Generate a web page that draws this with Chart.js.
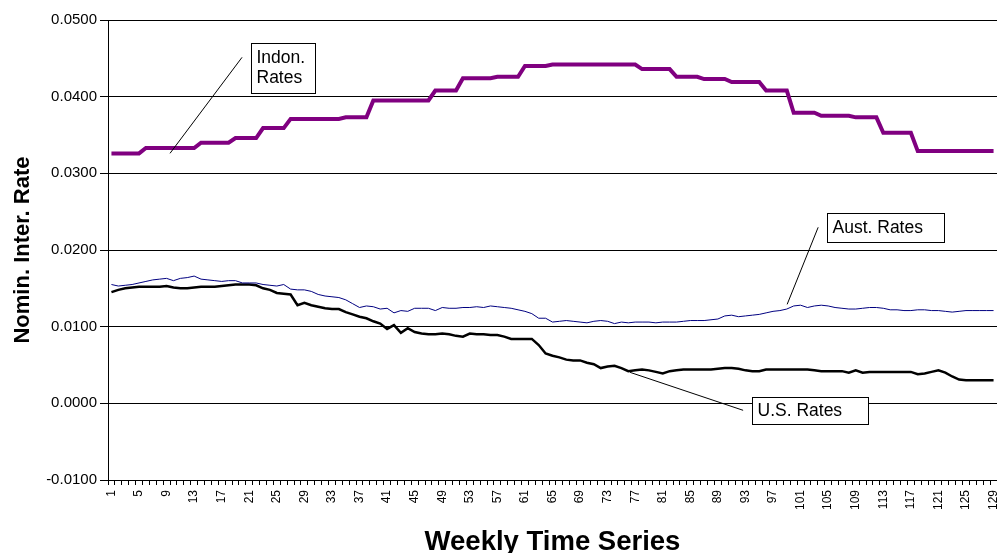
<!DOCTYPE html>
<html>
<head>
<meta charset="utf-8">
<script src="https://cdn.jsdelivr.net/npm/chart.js@4.4.0/dist/chart.umd.min.js"></script>
<style>
  html, body { margin: 0; padding: 0; background: #fff; }
</style>
</head>
<body>
<canvas id="grafico" width="997" height="553"></canvas>
<script>
// semanas (categorias del eje x)
const semanas = [
  '1','2','3','4','5','6','7','8','9','10','11','12','13','14','15','16','17','18','19','20',
  '21','22','23','24','25','26','27','28','29','30','31','32','33','34','35','36','37','38','39','40',
  '41','42','43','44','45','46','47','48','49','50','51','52','53','54','55','56','57','58','59','60',
  '61','62','63','64','65','66','67','68','69','70','71','72','73','74','75','76','77','78','79','80',
  '81','82','83','84','85','86','87','88','89','90','91','92','93','94','95','96','97','98','99','100',
  '101','102','103','104','105','106','107','108','109','110','111','112','113','114','115','116','117','118','119','120',
  '121','122','123','124','125','126','127','128','129'
];

const tasaIndon = [
  0.0326,0.0326,0.0326,0.0326,0.0326,0.0333,0.0333,0.0333,0.0333,0.0333,
  0.0333,0.0333,0.0333,0.0340,0.0340,0.0340,0.0340,0.0340,0.0346,0.0346,
  0.0346,0.0346,0.0359,0.0359,0.0359,0.0359,0.0371,0.0371,0.0371,0.0371,
  0.0371,0.0371,0.0371,0.0371,0.0373,0.0373,0.0373,0.0373,0.0395,0.0395,
  0.0395,0.0395,0.0395,0.0395,0.0395,0.0395,0.0395,0.0408,0.0408,0.0408,
  0.0408,0.0424,0.0424,0.0424,0.0424,0.0424,0.0426,0.0426,0.0426,0.0426,
  0.0440,0.0440,0.0440,0.0440,0.0442,0.0442,0.0442,0.0442,0.0442,0.0442,
  0.0442,0.0442,0.0442,0.0442,0.0442,0.0442,0.0442,0.0436,0.0436,0.0436,
  0.0436,0.0436,0.0426,0.0426,0.0426,0.0426,0.0423,0.0423,0.0423,0.0423,
  0.0419,0.0419,0.0419,0.0419,0.0419,0.0408,0.0408,0.0408,0.0408,0.0379,
  0.0379,0.0379,0.0379,0.0375,0.0375,0.0375,0.0375,0.0375,0.0373,0.0373,
  0.0373,0.0373,0.0353,0.0353,0.0353,0.0353,0.0353,0.0329,0.0329,0.0329,
  0.0329,0.0329,0.0329,0.0329,0.0329,0.0329,0.0329,0.0329,0.0329
];

const tasaAust = [
  0.0155,0.0153,0.0154,0.0155,0.0157,0.0159,0.0161,0.0162,0.0163,0.0160,
  0.0163,0.0164,0.0166,0.0162,0.0161,0.0160,0.0159,0.0160,0.0160,0.0157,
  0.0157,0.0157,0.0155,0.0154,0.0153,0.0155,0.0149,0.0148,0.0148,0.0146,
  0.0142,0.0140,0.0139,0.0138,0.0135,0.0130,0.0125,0.0127,0.0126,0.0123,
  0.0124,0.0118,0.0121,0.0120,0.0124,0.0124,0.0124,0.0121,0.0125,0.0124,
  0.0124,0.0125,0.0125,0.0126,0.0125,0.0127,0.0126,0.0125,0.0124,0.0122,
  0.0120,0.0117,0.0111,0.0111,0.0106,0.0107,0.0108,0.0107,0.0106,0.0105,
  0.0107,0.0108,0.0107,0.0104,0.0106,0.0105,0.0106,0.0106,0.0106,0.0105,
  0.0106,0.0106,0.0106,0.0107,0.0108,0.0108,0.0108,0.0109,0.0110,0.0114,
  0.0115,0.0113,0.0114,0.0115,0.0116,0.0118,0.0120,0.0121,0.0123,0.0127,
  0.0128,0.0125,0.0127,0.0128,0.0127,0.0125,0.0124,0.0123,0.0123,0.0124,
  0.0125,0.0125,0.0124,0.0122,0.0122,0.0121,0.0121,0.0122,0.0122,0.0121,
  0.0121,0.0120,0.0119,0.0120,0.0121,0.0121,0.0121,0.0121,0.0121
];

const tasaUS = [
  0.0145,0.0148,0.0150,0.0151,0.0152,0.0152,0.0152,0.0152,0.0153,0.0151,
  0.0150,0.0150,0.0151,0.0152,0.0152,0.0152,0.0153,0.0154,0.0155,0.0155,
  0.0155,0.0154,0.0150,0.0148,0.0144,0.0143,0.0142,0.0128,0.0131,0.0128,
  0.0126,0.0124,0.0123,0.0123,0.0119,0.0116,0.0113,0.0111,0.0107,0.0104,
  0.0097,0.0102,0.0092,0.0098,0.0093,0.0091,0.0090,0.0090,0.0091,0.0090,
  0.0088,0.0087,0.0091,0.0090,0.0090,0.0089,0.0089,0.0087,0.0084,0.0084,
  0.0084,0.0084,0.0076,0.0065,0.0062,0.0060,0.0057,0.0056,0.0056,0.0053,
  0.0051,0.0046,0.0048,0.0049,0.0046,0.0042,0.0043,0.0044,0.0043,0.0041,
  0.0039,0.0042,0.0043,0.0044,0.0044,0.0044,0.0044,0.0044,0.0045,0.0046,
  0.0046,0.0045,0.0043,0.0042,0.0042,0.0044,0.0044,0.0044,0.0044,0.0044,
  0.0044,0.0044,0.0043,0.0042,0.0042,0.0042,0.0042,0.0040,0.0043,0.0040,
  0.0041,0.0041,0.0041,0.0041,0.0041,0.0041,0.0041,0.0038,0.0039,0.0041,
  0.0043,0.0040,0.0035,0.0031,0.0030,0.0030,0.0030,0.0030,0.0030
];

// notas: texto, caja [x1, y1, x2, y2] y linea guia [x1, y1, x2, y2] en unidades de los ejes
const notaTextos = [['Indon.', 'Rates'], ['Aust. Rates'], ['U.S. Rates']];
const notaCajas = [
  [20.25, 0.04695, 29.54, 0.04043],
  [103.85, 0.02478, 120.83, 0.0210],
  [92.97, 0.00078, 109.8, -0.00274]
];
const notaGuias = [
  [18.95, 0.04513, 8.5, 0.03261],
  [102.55, 0.02296, 98.05, 0.01291],
  [91.66, -0.00091, 75.26, 0.00404]
];

const fuente = 'Arial, "Liberation Sans", sans-serif';

const notasPlugin = {
  id: 'notas',
  afterDatasetsDraw(chart) {
    const ctx = chart.ctx;
    const x = chart.scales.x;
    const y = chart.scales.y;
    ctx.save();
    ctx.strokeStyle = '#000';
    ctx.lineWidth = 1;
    notaGuias.forEach(g => {
      ctx.beginPath();
      ctx.moveTo(x.getPixelForValue(g[0]), y.getPixelForValue(g[1]));
      ctx.lineTo(x.getPixelForValue(g[2]), y.getPixelForValue(g[3]));
      ctx.stroke();
    });
    ctx.font = '17.5px ' + fuente;
    ctx.textBaseline = 'middle';
    ctx.fillStyle = '#000';
    notaCajas.forEach((c, i) => {
      const x1 = Math.round(x.getPixelForValue(c[0])) + 0.5;
      const y1 = Math.round(y.getPixelForValue(c[1])) + 0.5;
      const x2 = Math.round(x.getPixelForValue(c[2])) + 0.5;
      const y2 = Math.round(y.getPixelForValue(c[3])) + 0.5;
      ctx.fillStyle = '#fff';
      ctx.fillRect(x1, y1, x2 - x1, y2 - y1);
      ctx.strokeRect(x1, y1, x2 - x1, y2 - y1);
      ctx.fillStyle = '#000';
      const lineas = notaTextos[i];
      const alto = 20;
      const inicio = (y1 + y2) / 2 - (lineas.length - 1) * alto / 2;
      lineas.forEach((t, k) => {
        ctx.fillText(t, x1 + 5, inicio + k * alto);
      });
    });
    ctx.restore();
  }
};

const ctxGrafico = document.getElementById('grafico').getContext('2d');

const grafico = new Chart(ctxGrafico, {
  type: 'line',
  data: {
    labels: semanas,
    datasets: [
      {
        label: 'Indon. Rates',
        data: tasaIndon,
        borderColor: '#800080',
        borderWidth: 4,
        pointRadius: 0,
        tension: 0,
        fill: false
      },
      {
        label: 'Aust. Rates',
        data: tasaAust,
        borderColor: '#000080',
        borderWidth: 1,
        pointRadius: 0,
        tension: 0,
        fill: false
      },
      {
        label: 'U.S. Rates',
        data: tasaUS,
        borderColor: '#000',
        borderWidth: 2.5,
        pointRadius: 0,
        tension: 0,
        fill: false
      }
    ]
  },
  options: {
    responsive: false,
    animation: false,
    devicePixelRatio: 1,
    layout: { padding: { top: 20, right: 0, left: 0, bottom: 0 } },
    plugins: {
      legend: { display: false },
      tooltip: { enabled: false }
    },
    scales: {
      x: {
        type: 'category',
        offset: true,
        grid: {
          offset: true,
          drawOnChartArea: false,
          drawTicks: true,
          tickLength: 5,
          color: '#000'
        },
        border: { color: '#000', width: 1 },
        ticks: {
          autoSkip: false,
          maxRotation: 90,
          minRotation: 90,
          padding: 5,
          color: '#000',
          font: { family: fuente, size: 12 },
          callback: (v, i) => (i % 4 === 0 ? semanas[i] : '')
        },
        title: {
          display: true,
          text: 'Weekly Time Series',
          color: '#000',
          font: { family: fuente, size: 27.5, weight: 'bold', lineHeight: 0.78 },
          padding: { top: 0, bottom: 0 }
        },
        afterFit: s => {
          s.height = 73;
          s.paddingLeft = 0;
          s.paddingRight = 0;
        }
      },
      y: {
        min: -0.01,
        max: 0.05,
        grid: {
          color: '#000',
          lineWidth: 1,
          tickLength: 8
        },
        border: { color: '#000', width: 1 },
        ticks: {
          stepSize: 0.01,
          padding: 3,
          color: '#000',
          font: { family: fuente, size: 15 },
          callback: v => v.toFixed(4)
        },
        title: {
          display: true,
          text: 'Nomin. Inter. Rate',
          color: '#000',
          font: { family: fuente, size: 22, weight: 'bold', lineHeight: 1 },
          padding: { top: 12, bottom: 0 }
        },
        afterFit: s => { s.width = 108; }
      }
    }
  },
  plugins: [notasPlugin]
});
</script>
</body>
</html>
